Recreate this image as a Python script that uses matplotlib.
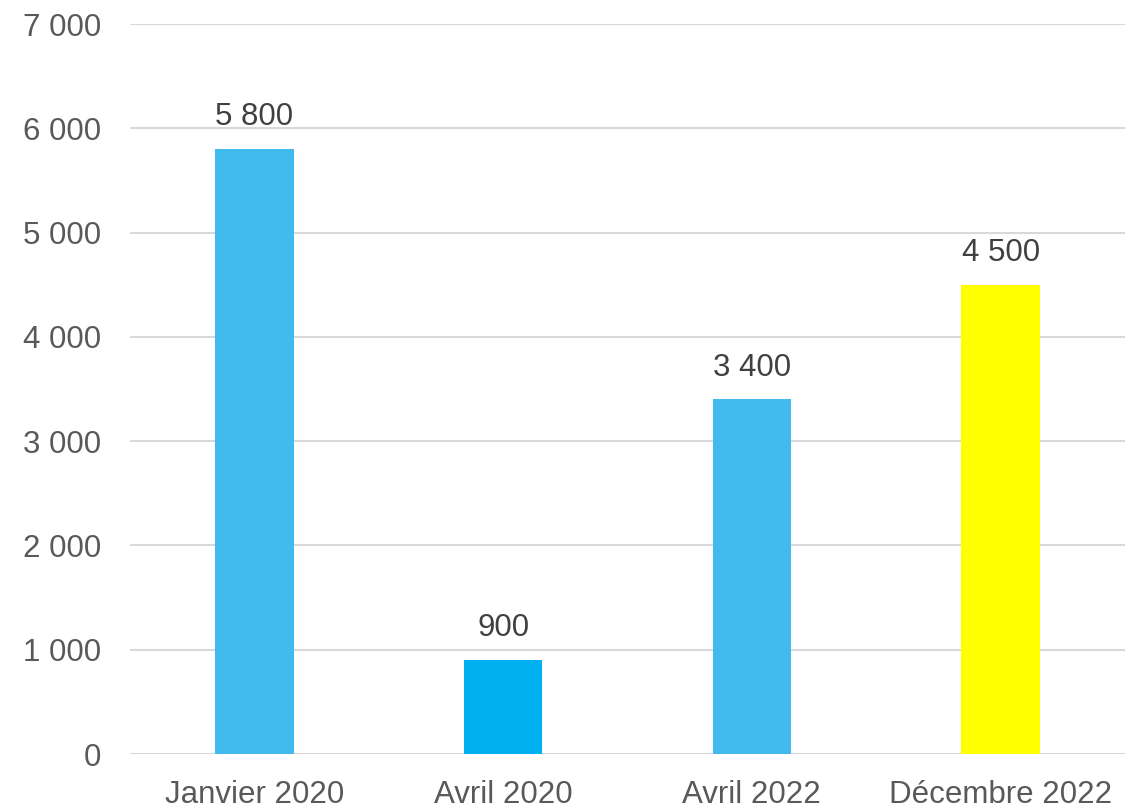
import matplotlib
matplotlib.use("Agg")
import matplotlib.pyplot as plt
from matplotlib.ticker import FuncFormatter

categories = ["Janvier 2020", "Avril 2020", "Avril 2022", "Décembre 2022"]
values = [5800, 900, 3400, 4500]
colors = ["#41BBEE", "#00B0F0", "#41BBEE", "#FFFF00"]
yticks = [0, 1000, 2000, 3000, 4000, 5000, 6000, 7000]

plt.rcParams['font.family'] = ['Liberation Sans', 'DejaVu Sans']

fig = plt.figure(figsize=(11.36, 8.08), dpi=100)
ax = fig.add_axes([130/1136, 1-754/808, (1125-130)/1136, (754-24)/808])

x = range(len(categories))
bars = ax.bar(x, values, width=0.315, color=colors, zorder=3)

def fmt(v, pos=None):
    return f"{int(v):,}".replace(",", " ")

for xi, v in zip(x, values):
    ax.annotate(fmt(v), (xi, v), xytext=(0, 12), textcoords="offset points",
                ha="center", va="bottom", fontsize=22.5, color="#404040")

ax.set_xlim(-0.5, 3.5)
ax.set_ylim(0, 7000)
ax.set_yticks(yticks)
ax.yaxis.set_major_formatter(FuncFormatter(fmt))
ax.set_xticks(list(x))
ax.set_xticklabels(categories)
ax.tick_params(axis="both", length=0, labelsize=22.5, labelcolor="#595959")
ax.tick_params(axis="y", pad=21)
ax.tick_params(axis="x", pad=19)
ax.grid(axis="y", color="#D9D9D9", linewidth=1.5, zorder=0)
for s in ax.spines.values():
    s.set_visible(False)

fig.savefig("out.png", dpi=100, facecolor="white")
